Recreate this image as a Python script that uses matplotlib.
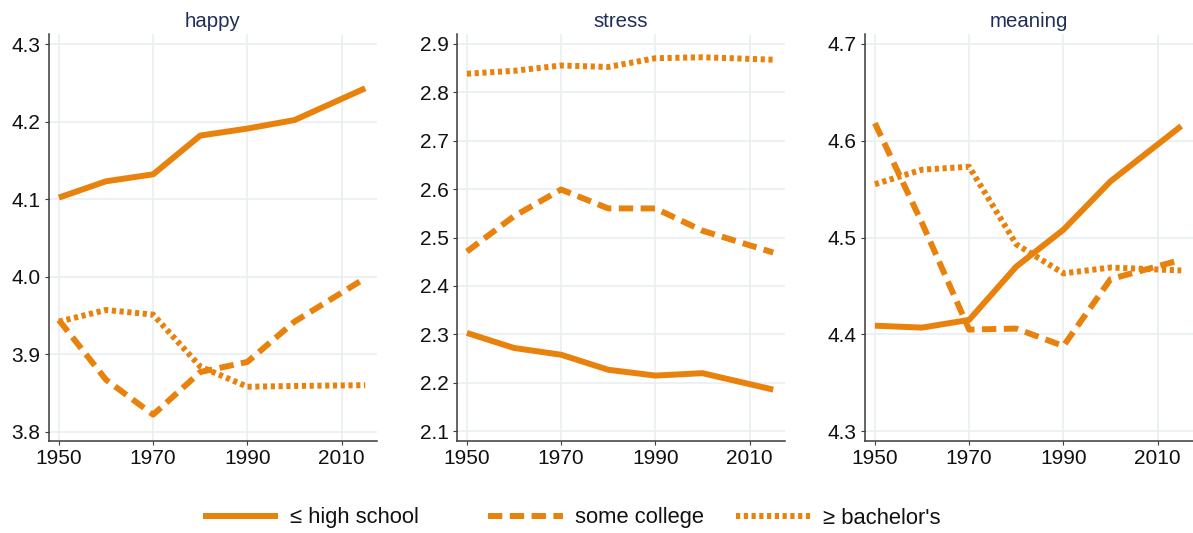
import numpy as np
import matplotlib.pyplot as plt

# data
years = [1950, 1960, 1970, 1980, 1990, 2000, 2015]
groups = ["\u2264 high school", "some college", "\u2265 bachelor's"]

happy_hs = [4.102, 4.123, 4.132, 4.182, 4.191, 4.202, 4.243]
happy_sc = [3.944, 3.867, 3.822, 3.877, 3.890, 3.942, 3.998]
happy_ba = [3.942, 3.957, 3.951, 3.884, 3.858, 3.859, 3.860]

stress_hs = [2.303, 2.272, 2.258, 2.227, 2.215, 2.220, 2.186]
stress_sc = [2.471, 2.544, 2.599, 2.560, 2.560, 2.514, 2.469]
stress_ba = [2.838, 2.844, 2.855, 2.852, 2.870, 2.872, 2.867]

meaning_hs = [4.409, 4.407, 4.415, 4.470, 4.508, 4.558, 4.615]
meaning_sc = [4.618, 4.515, 4.405, 4.406, 4.388, 4.457, 4.477]
meaning_ba = [4.555, 4.570, 4.573, 4.493, 4.463, 4.469, 4.466]

panels = ["happy", "stress", "meaning"]
yticks = {
    "happy": [3.8, 3.9, 4.0, 4.1, 4.2, 4.3],
    "stress": [2.1, 2.2, 2.3, 2.4, 2.5, 2.6, 2.7, 2.8, 2.9],
    "meaning": [4.3, 4.4, 4.5, 4.6, 4.7],
}
ylims = {"happy": (3.788, 4.313), "stress": (2.080, 2.920), "meaning": (4.290, 4.710)}
series = {
    "happy": [happy_hs, happy_sc, happy_ba],
    "stress": [stress_hs, stress_sc, stress_ba],
    "meaning": [meaning_hs, meaning_sc, meaning_ba],
}
xticks = [1950, 1970, 1990, 2010]

plt.rcParams['font.family'] = ['Liberation Sans', 'DejaVu Sans']

orange = "#e8820c"
styles = [dict(linestyle="-"), dict(linestyle=(0, (2.4, 1.25))), dict(linestyle=(0, (0.7, 0.6)))]

W, H = 1193, 533
fig = plt.figure(figsize=(W / 100, H / 100), dpi=100)

lefts = [49, 457, 865]
handles = []
for i, name in enumerate(panels):
    ax = fig.add_axes([lefts[i] / W, (H - 441) / H, 328 / W, 407 / H])
    for j, vals in enumerate(series[name]):
        ln, = ax.plot(years, vals, color=orange, lw=4.3, solid_capstyle="butt",
                      dash_capstyle="butt", **styles[j])
        if i == 0:
            handles.append(ln)
    ax.set_xlim(1947.9, 2017.5)
    ax.set_ylim(*ylims[name])
    ax.set_xticks(xticks)
    ax.set_yticks(yticks[name])
    ax.set_yticklabels([f"{v:.1f}" for v in yticks[name]])
    ax.grid(True, color="#e7eff1", lw=1.1)
    ax.set_axisbelow(True)
    for s in ["top", "right"]:
        ax.spines[s].set_visible(False)
    for s in ["left", "bottom"]:
        ax.spines[s].set_color("#3a3a3a")
        ax.spines[s].set_linewidth(1.1)
    ax.tick_params(labelsize=15, length=3, color="#3a3a3a", labelcolor="#111111")
    ax.tick_params(axis="y", pad=3)
    ax.tick_params(axis="x", pad=2.5)
    ax.set_title(name, fontsize=14.7, color="#1e2d5a", pad=5)

# legend entries sit at uneven spacing in the reference, so place them one by one
leg_x = [203, 488, 736]
for h, lab, x in zip(handles, groups, leg_x):
    leg = fig.legend([h], [lab], loc="center left", bbox_to_anchor=(x / W, 15 / H),
                     frameon=False, fontsize=15.8, handlelength=3.4, handletextpad=0.55,
                     borderpad=0, borderaxespad=0)
    for t in leg.get_texts():
        t.set_color("#111111")

fig.savefig("out.png", dpi=100)
